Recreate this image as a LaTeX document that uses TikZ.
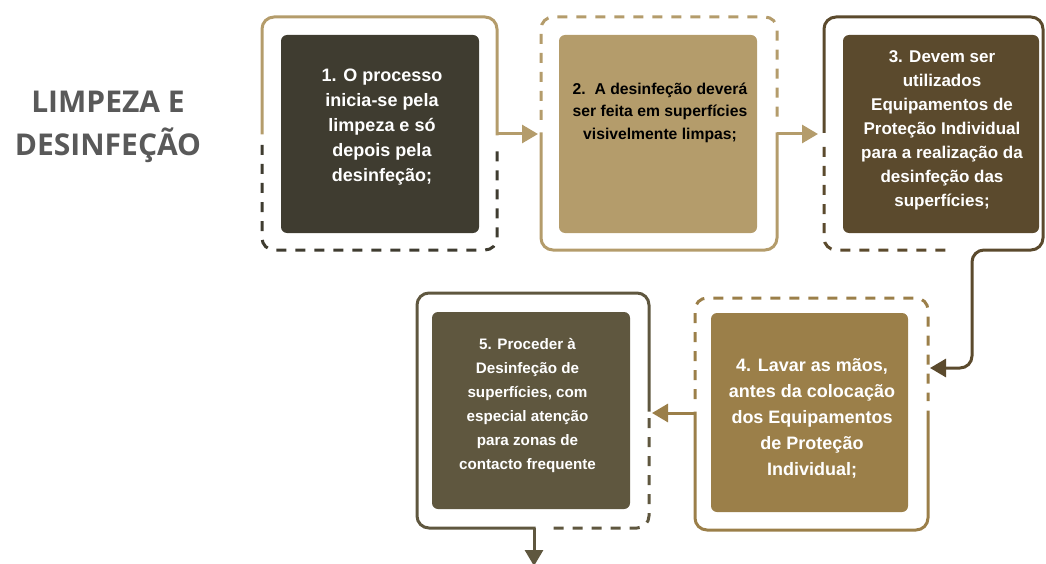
\documentclass[tikz,border=0pt]{standalone}
\usepackage{fontspec}
\setmainfont{Liberation Sans}
\newfontfamily\titlefont{Open Sans}
\usetikzlibrary{arrows.meta}
\definecolor{cA}{HTML}{3F3C30}
\definecolor{cB}{HTML}{B49C6B}
\definecolor{cC}{HTML}{5B4A2D}
\definecolor{cD}{HTML}{9B7F49}
\definecolor{cE}{HTML}{5F573F}
\definecolor{cT}{HTML}{595959}
\tikzset{
  frame/.style={line width=3pt, rounded corners=12pt},
  sframe/.style={frame, line cap=rect},
  dframe/.style={frame, dash pattern=on 10pt off 9pt},
  link/.style={line width=3pt, -{Triangle[length=16pt,width=18pt]}},
  card/.style={draw=none, rounded corners=6pt, minimum width=198pt, minimum height=198pt, inner sep=0pt},
  txt/.style={align=center, inner sep=0pt, font=\bfseries},
}
\begin{document}
\begin{tikzpicture}[x=1pt,y=-1pt]
\useasboundingbox (0,0) rectangle (1046,564);

% title
\node[txt, text=cT, font=\titlefont\bfseries\fontsize{30}{43}\selectfont] (title) at (108,127) {LIMPEZA E\\DESINFEÇÃO};

% cards
\node[card, fill=cA] (b1) at (380,134) {};
\node[card, fill=cB] (b2) at (658,134) {};
\node[card, fill=cC, minimum width=196pt] (b3) at (941,134) {};
\node[card, fill=cD, minimum width=197pt, minimum height=199pt] (b4) at (809.5,412.5) {};
\node[card, fill=cE, minimum height=197pt] (b5) at (531,410.5) {};

% connector ends
\coordinate (o1) at (497,134);  \coordinate (in2) at (538,134);
\coordinate (o2) at (777,134);  \coordinate (in3) at (818,134);
\coordinate (in4) at (930,368);
\coordinate (o4) at (695,413);  \coordinate (in5) at (652,413);
\coordinate (o5) at (534,528);  \coordinate (out5) at (534,566);

% frame 1
\draw[dframe, cA] (262,145) -- (262,250) -- (497,250) -- (497,145);
\draw[sframe, cB] (262,133) -- (262,17) -- (497,17) -- (o1);
\draw[link, cB] (o1) -- (in2);
% frame 2
\draw[dframe, cB] (541,120) -- (541,17) -- (777,17) -- (777,120);
\draw[sframe, cB] (541,134) -- (541,250) -- (777,250) -- (o2);
\draw[link, cB] (o2) -- (in3);
% frame 3
\draw[dframe, cC] (824,147) -- (824,250) -- (948,250);
\draw[frame, link, cC] (824,133) -- (824,17) -- (1043,17) -- (1043,250) -- (972,250) -- (972,368) -- (in4);
% frame 4
\draw[dframe, cD] (695,399) -- (695,298) -- (928,298) -- (928,401);
\draw[sframe, cD] (928,412) -- (928,530) -- (695,530) -- (o4);
\draw[link, cD] (o4) -- (in5);
% frame 5
\draw[dframe, cE] (649,418) -- (649,528) -- (550,528);
\draw[sframe, cE] (649,410) -- (649,293) -- (417,293) -- (417,528) -- (o5);
\draw[link, cE] (o5) -- (out5);

% texts
\node[txt, text=white, font=\bfseries\fontsize{18}{25}\selectfont] (t1) at (382,127.5)
  {1. O processo\\inicia-se pela\\limpeza e só\\depois pela\\desinfeção;};
\node[txt, text=black, font=\bfseries\fontsize{15.7}{22.5}\selectfont] (t2) at (660,112.5)
  {2.\ \ A desinfeção deverá\\ser feita em superfícies\\visivelmente limpas;};
\node[txt, text=white, font=\bfseries\fontsize{17}{24}\selectfont] (t3) at (942,130)
  {3. Devem ser\\utilizados\\Equipamentos de\\Proteção Individual\\para a realização da\\desinfeção das\\superfícies;};
\node[txt, text=white, font=\bfseries\fontsize{18}{26}\selectfont] (t4) at (812,418)
  {4. Lavar as mãos,\\antes da colocação\\dos Equipamentos\\de Proteção\\Individual;};
\node[txt, text=white, font=\bfseries\fontsize{15.2}{24}\selectfont] (t5) at (527.5,405)
  {5. Proceder à\\Desinfeção de\\superfícies, com\\especial atenção\\para zonas de\\contacto frequente};
\end{tikzpicture}
\end{document}
